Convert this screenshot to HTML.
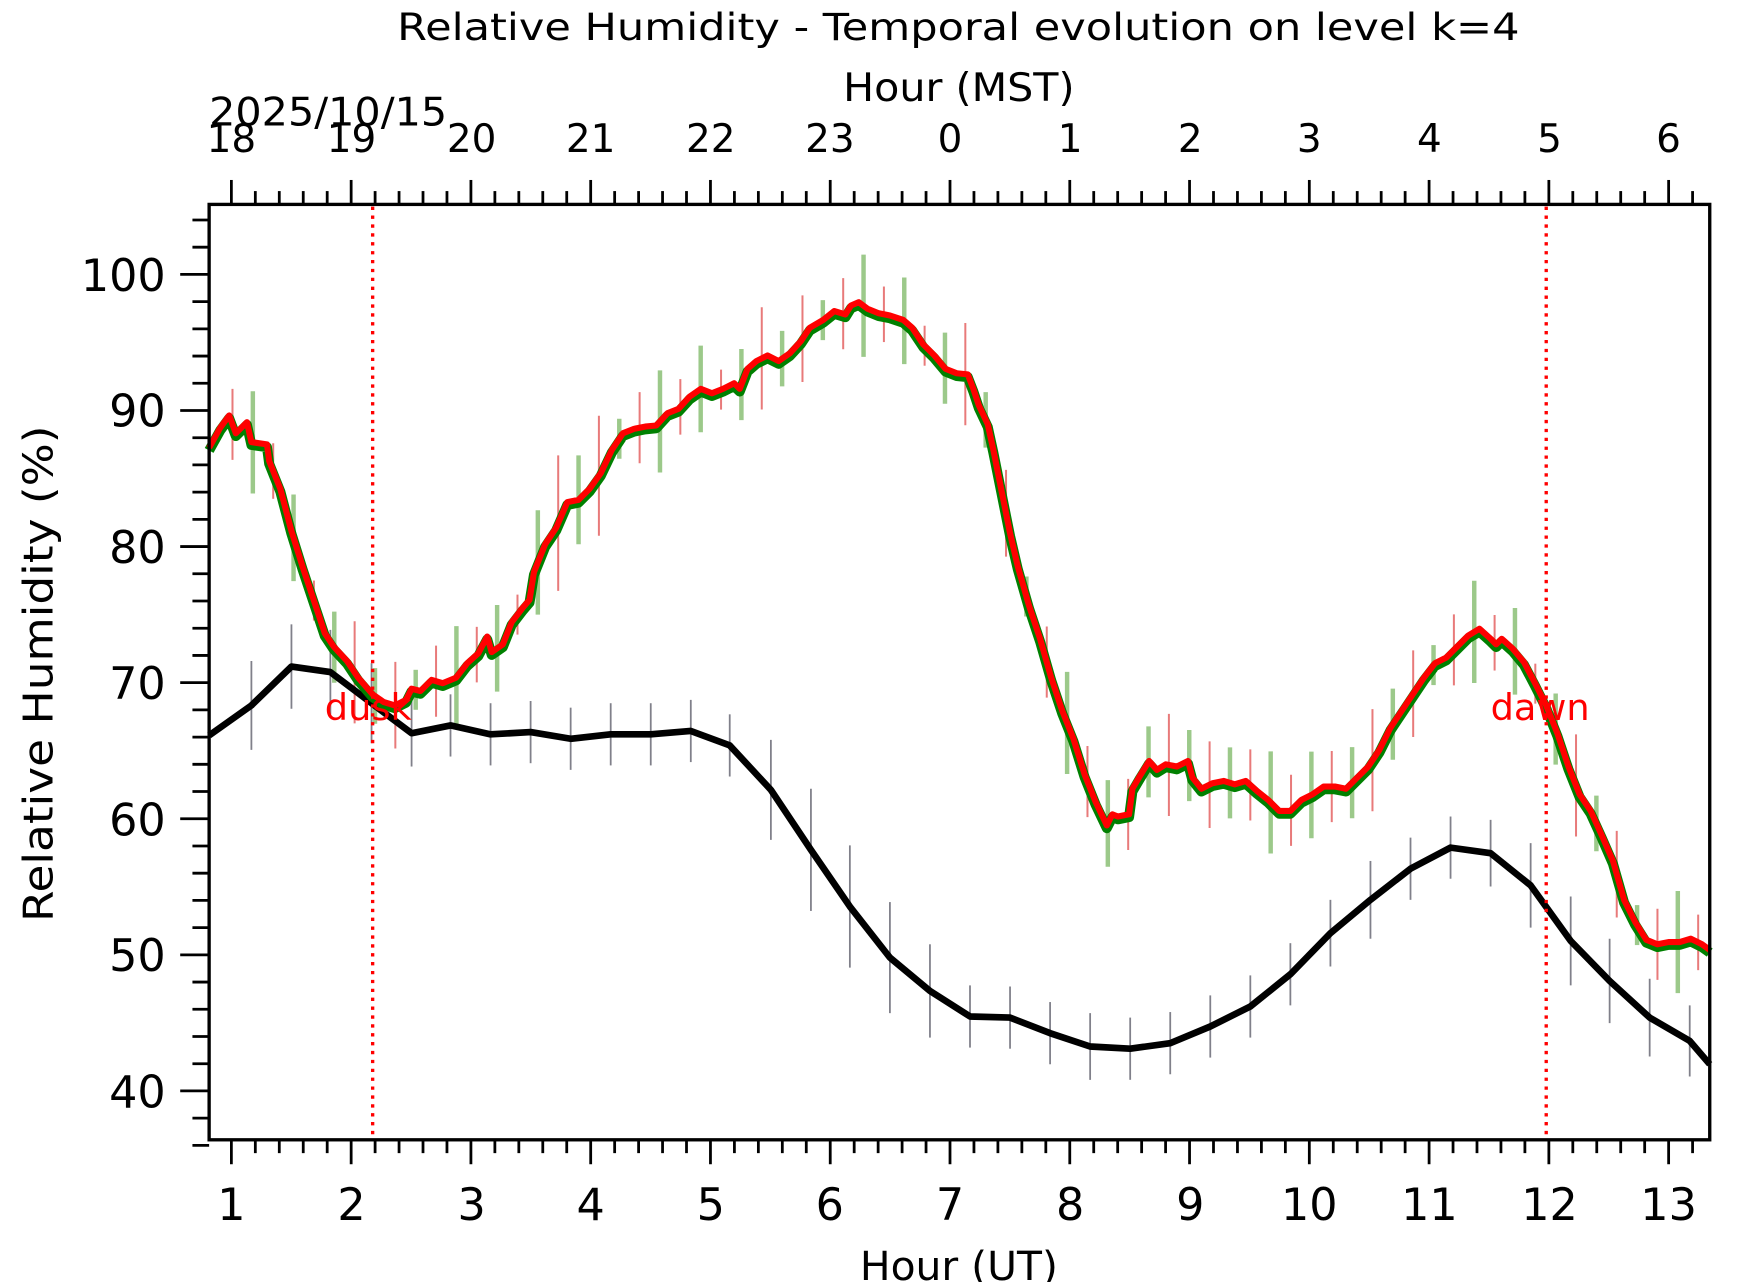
<!DOCTYPE html>
<html><head><meta charset="utf-8"><style>
html,body{margin:0;padding:0;background:#fff}
svg{display:block}
text{font-family:"DejaVu Sans","Liberation Sans",sans-serif;fill:#000}
</style></head><body>
<svg id="s" width="1742" height="1282" viewBox="0 0 1566 1154" preserveAspectRatio="none" xmlns="http://www.w3.org/2000/svg">
<rect width="1566" height="1154" fill="#fff"/>
<g id="bars"></g>
<polyline fill="none" stroke="#000" stroke-width="6" stroke-linejoin="round" points="188,662 226,635 262,600 297,605 334,633 370,660 405,653 441,661 477,659 513,665 549,661 585,661 621,658 656,671 693,711 729,765 764,816 800,862 836,892 872,915 908,916 944,930 980,942 1016,944 1052,939 1088,924 1124,906 1160,877 1196,840 1232,810 1268,782 1304,763 1340,768 1376,797 1412,847 1447,883 1483,916 1519,937 1537,958"/>
<polyline id="g" fill="none" stroke="#008000" stroke-width="9" stroke-linejoin="round" transform="translate(0,2.5)"/>
<polyline id="r" fill="none" stroke="#ff0000" stroke-width="5.5" stroke-linejoin="round"/>
<line x1="335" y1="186" x2="335" y2="1026" stroke="#f00" stroke-width="3" stroke-dasharray="3,5"/>
<line x1="1390" y1="186" x2="1390" y2="1026" stroke="#f00" stroke-width="3" stroke-dasharray="3,5"/>
<text x="292" y="648" font-size="33" style="fill:#f00">dusk</text>
<text x="1340" y="648" font-size="33" style="fill:#f00">dawn</text>
<rect x="188" y="184" width="1349" height="842" fill="none" stroke="#000" stroke-width="3"/>
<g id="ticks" stroke="#000" stroke-width="2.5"></g>
<text x="357" y="36" font-size="34" textLength="1009" lengthAdjust="spacingAndGlyphs">Relative Humidity - Temporal evolution on level k=4</text>
<text x="758" y="91" font-size="35" textLength="208" lengthAdjust="spacingAndGlyphs">Hour (MST)</text>
<text x="188" y="113" font-size="35" textLength="214" lengthAdjust="spacingAndGlyphs">2025/10/15</text>
<g font-size="35" text-anchor="middle">
<text x="208" y="137">18</text><text x="316" y="137">19</text><text x="424" y="137">20</text><text x="531" y="137">21</text><text x="639" y="137">22</text><text x="746" y="137">23</text><text x="854" y="137">0</text><text x="962" y="137">1</text><text x="1070" y="137">2</text><text x="1177" y="137">3</text><text x="1285" y="137">4</text><text x="1393" y="137">5</text><text x="1500" y="137">6</text>
</g>
<g font-size="40" text-anchor="middle">
<text x="208" y="1098">1</text><text x="316" y="1098">2</text><text x="424" y="1098">3</text><text x="531" y="1098">4</text><text x="639" y="1098">5</text><text x="746" y="1098">6</text><text x="854" y="1098">7</text><text x="962" y="1098">8</text><text x="1070" y="1098">9</text><text x="1177" y="1098">10</text><text x="1285" y="1098">11</text><text x="1393" y="1098">12</text><text x="1500" y="1098">13</text>
</g>
<g font-size="40" text-anchor="end">
<text x="149" y="262">100</text><text x="149" y="384">90</text><text x="149" y="507">80</text><text x="149" y="629">70</text><text x="149" y="752">60</text><text x="149" y="874">50</text><text x="149" y="997">40</text>
</g>
<text x="773" y="1152" font-size="36" textLength="178" lengthAdjust="spacingAndGlyphs">Hour (UT)</text>
<text transform="translate(47,830) rotate(-90)" font-size="37" textLength="447" lengthAdjust="spacingAndGlyphs">Relative Humidity (%)</text>
</svg>
<script>
var NS="http://www.w3.org/2000/svg";
function L(p,x1,y1,x2,y2,c,w){var l=document.createElementNS(NS,"line");l.setAttribute("x1",x1);l.setAttribute("y1",y1);l.setAttribute("x2",x2);l.setAttribute("y2",y2);if(c){l.setAttribute("stroke",c);l.setAttribute("stroke-width",w);}p.appendChild(l);}
var T=document.getElementById("ticks");
for(var i=0;i<=63;i++){var h=0.8+i*0.2;var x=208+(h-1)*107.67;if(x<189||x>1536)continue;var maj=Math.abs(h-Math.round(h))<0.01;var len=maj?22:12;L(T,x,1026,x,1026+len);L(T,x,184,x,184-len);}
for(var v=36;v<=104;v+=2){var y=982-(v-40)*12.25;var maj=v%10==0;L(T,188,y,188-(maj?26:15),y);}
var r=[[188,403],[198,385],[206,374],[212,390],[222,380],[226,398],[240,400],[242,415],[252,440],[262,478],[272,510],[282,540],[292,570],[300,582],[312,595],[322,610],[335,625],[345,632],[355,635],[365,630],[370,620],[378,622],[388,612],[398,615],[410,610],[420,597],[430,588],[438,573],[442,587],[452,580],[460,560],[470,547],[476,540],[480,515],[490,490],[500,475],[510,452],[520,450],[530,440],[540,426],[550,405],[560,390],[570,386],[580,384],[590,383],[600,372],[610,368],[620,357],[630,350],[640,354],[650,350],[660,345],[665,350],[672,332],[680,325],[690,320],[700,325],[710,318],[720,307],[728,295],[740,288],[750,280],[760,283],[765,275],[772,272],[780,278],[790,282],[800,284],[812,288],[820,295],[830,310],[840,320],[850,332],[860,336],[870,337],[875,350],[880,365],[888,382],[893,405],[900,440],[908,480],[915,510],[925,545],[935,575],[945,610],[955,640],[965,665],[975,697],[985,722],[995,743],[1000,733],[1005,735],[1015,733],[1018,710],[1025,698],[1033,685],[1040,693],[1048,688],[1058,690],[1068,685],[1072,700],[1080,710],[1090,705],[1100,703],[1110,706],[1120,703],[1130,712],[1140,720],[1150,730],[1160,730],[1170,720],[1180,715],[1190,708],[1200,708],[1210,710],[1220,700],[1230,690],[1240,675],[1250,655],[1260,640],[1270,625],[1280,610],[1290,597],[1300,592],[1310,582],[1320,572],[1330,566],[1340,575],[1345,580],[1350,575],[1360,584],[1370,596],[1380,615],[1390,635],[1400,660],[1410,690],[1420,715],[1430,730],[1440,752],[1450,775],[1460,810],[1470,830],[1480,846],[1490,850],[1500,848],[1510,848],[1520,845],[1530,850],[1537,855]];
var s=r.map(function(p){return p.join(",")}).join(" ");
document.getElementById("r").setAttribute("points",s);document.getElementById("g").setAttribute("points",s);
function interp(x){for(var i=1;i<r.length;i++){if(r[i][0]>=x){var a=r[i-1],b=r[i];return a[1]+(b[1]-a[1])*(x-a[0])/(b[0]-a[0]||1);}}return r[r.length-1][1];}
var B=document.getElementById("bars");
var bk=[[226,635,40],[262,600,38],[297,605,38],[334,633,36],[370,660,30],[405,653,28],[441,661,28],[477,659,28],[513,665,28],[549,661,28],[585,661,28],[621,658,28],[656,671,28],[693,711,45],[729,765,55],[764,816,55],[800,862,50],[836,892,42],[872,915,28],[908,916,28],[944,930,28],[980,942,30],[1016,944,28],[1052,939,28],[1088,924,28],[1124,906,28],[1160,877,28],[1196,840,30],[1232,810,35],[1268,782,28],[1304,763,28],[1340,768,30],[1376,797,38],[1412,847,40],[1447,883,38],[1483,916,35],[1519,937,32]];
bk.forEach(function(b){L(B,b[0],b[1]-b[2],b[0],b[1]+b[2],"#80808a",1.6);});
var k=0;for(var x=209;x<1537;x+=18.3){k++;var y=interp(x);var gr=k%2==0;var e=18+((k*37)%5)*7;if(x>470&&x<540)e+=15;if(x>940&&x<1260)e=Math.max(e,32);L(B,x,y-e,x,y+e,gr?"#9cc98a":"#e87a7a",gr?4:1.8);}
</script>
</body></html>
